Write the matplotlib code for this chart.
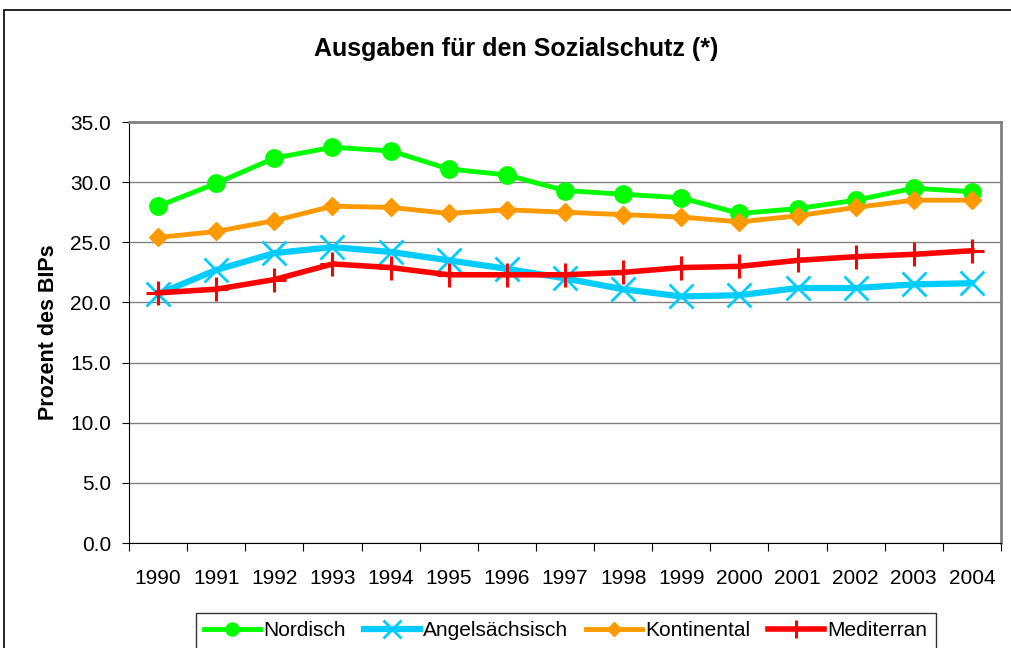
import matplotlib
matplotlib.use("Agg")
import matplotlib.pyplot as plt
from matplotlib.patches import Rectangle

plt.rcParams['font.family'] = ['Liberation Sans', 'DejaVu Sans']

years = ['1990', '1991', '1992', '1993', '1994', '1995', '1996', '1997',
         '1998', '1999', '2000', '2001', '2002', '2003', '2004']
nordisch = [28.0, 29.9, 32.0, 32.9, 32.6, 31.1, 30.6, 29.3, 29.0, 28.7, 27.4, 27.8, 28.5, 29.5, 29.2]
angelsaechsisch = [20.7, 22.7, 24.1, 24.6, 24.2, 23.5, 22.8, 22.0, 21.1, 20.5, 20.6, 21.2, 21.2, 21.5, 21.6]
kontinental = [25.4, 25.9, 26.8, 28.0, 27.9, 27.4, 27.7, 27.5, 27.3, 27.1, 26.7, 27.2, 27.9, 28.5, 28.5]
mediterran = [20.8, 21.1, 21.9, 23.2, 22.9, 22.3, 22.3, 22.3, 22.5, 22.9, 23.0, 23.5, 23.8, 24.0, 24.3]

x = range(len(years))

fig = plt.figure(figsize=(10.11, 6.48), dpi=100)
ax = fig.add_axes([0.1276, 0.162, 0.8625, 0.6497])

# outer chart border (right and bottom edges lie outside the picture)
fig.patches.append(Rectangle((4 / 1011, -0.1), 1.2, 1.1 - 10 / 648,
                             transform=fig.transFigure, fill=False,
                             edgecolor='black', linewidth=1.2))

ax.plot(x, nordisch, color='#00FF00', lw=3.5, marker='o', ms=12.5, label='Nordisch')
ax.plot(x, angelsaechsisch, color='#00CCFF', lw=4.5, marker='x', ms=17, mew=2,
        label='Angelsächsisch')
ax.plot(x, kontinental, color='#FF9900', lw=3.5, marker='D', ms=9.5, label='Kontinental')
ax.plot(x, mediterran, color='#FF0000', lw=4, marker='+', ms=17, mew=2.2, label='Mediterran')

ax.set_xlim(-0.5, len(years) - 0.5)
ax.set_ylim(0, 35)
ax.set_yticks([0, 5, 10, 15, 20, 25, 30, 35])
ax.set_yticklabels(['%.1f' % v for v in ax.get_yticks()], fontsize=15)
ax.set_xticks([i - 0.5 for i in range(len(years) + 1)])
ax.set_xticklabels([])
ax.set_xticks(list(x), minor=True)
ax.set_xticklabels(years, minor=True, fontsize=15)
ax.tick_params(axis='x', which='minor', length=0, pad=19)
ax.tick_params(axis='x', which='major', length=6, direction='out')
ax.tick_params(axis='y', length=5, direction='out', pad=8)

ax.yaxis.grid(True, color='#808080', lw=1)
ax.set_axisbelow(True)
ax.spines['top'].set_color('#808080')
ax.spines['right'].set_color('#808080')
ax.spines['top'].set_linewidth(2)
ax.spines['right'].set_linewidth(2)

ax.set_ylabel('Prozent des BIPs', fontsize=15.5, fontweight='bold', labelpad=8)
fig.text(0.511, 0.924, 'Ausgaben für den Sozialschutz (*)', ha='center', va='center',
         fontsize=18, fontweight='bold')

leg = ax.legend(loc='upper center', bbox_to_anchor=(0.501, -0.166), ncol=4,
                fontsize=15, frameon=True, fancybox=False, edgecolor='black',
                handlelength=2.7, handletextpad=0.15, columnspacing=0.85,
                borderpad=0.4, borderaxespad=0, markerscale=0.75)
leg.get_frame().set_linewidth(1)

fig.savefig('out.png', dpi=100)
